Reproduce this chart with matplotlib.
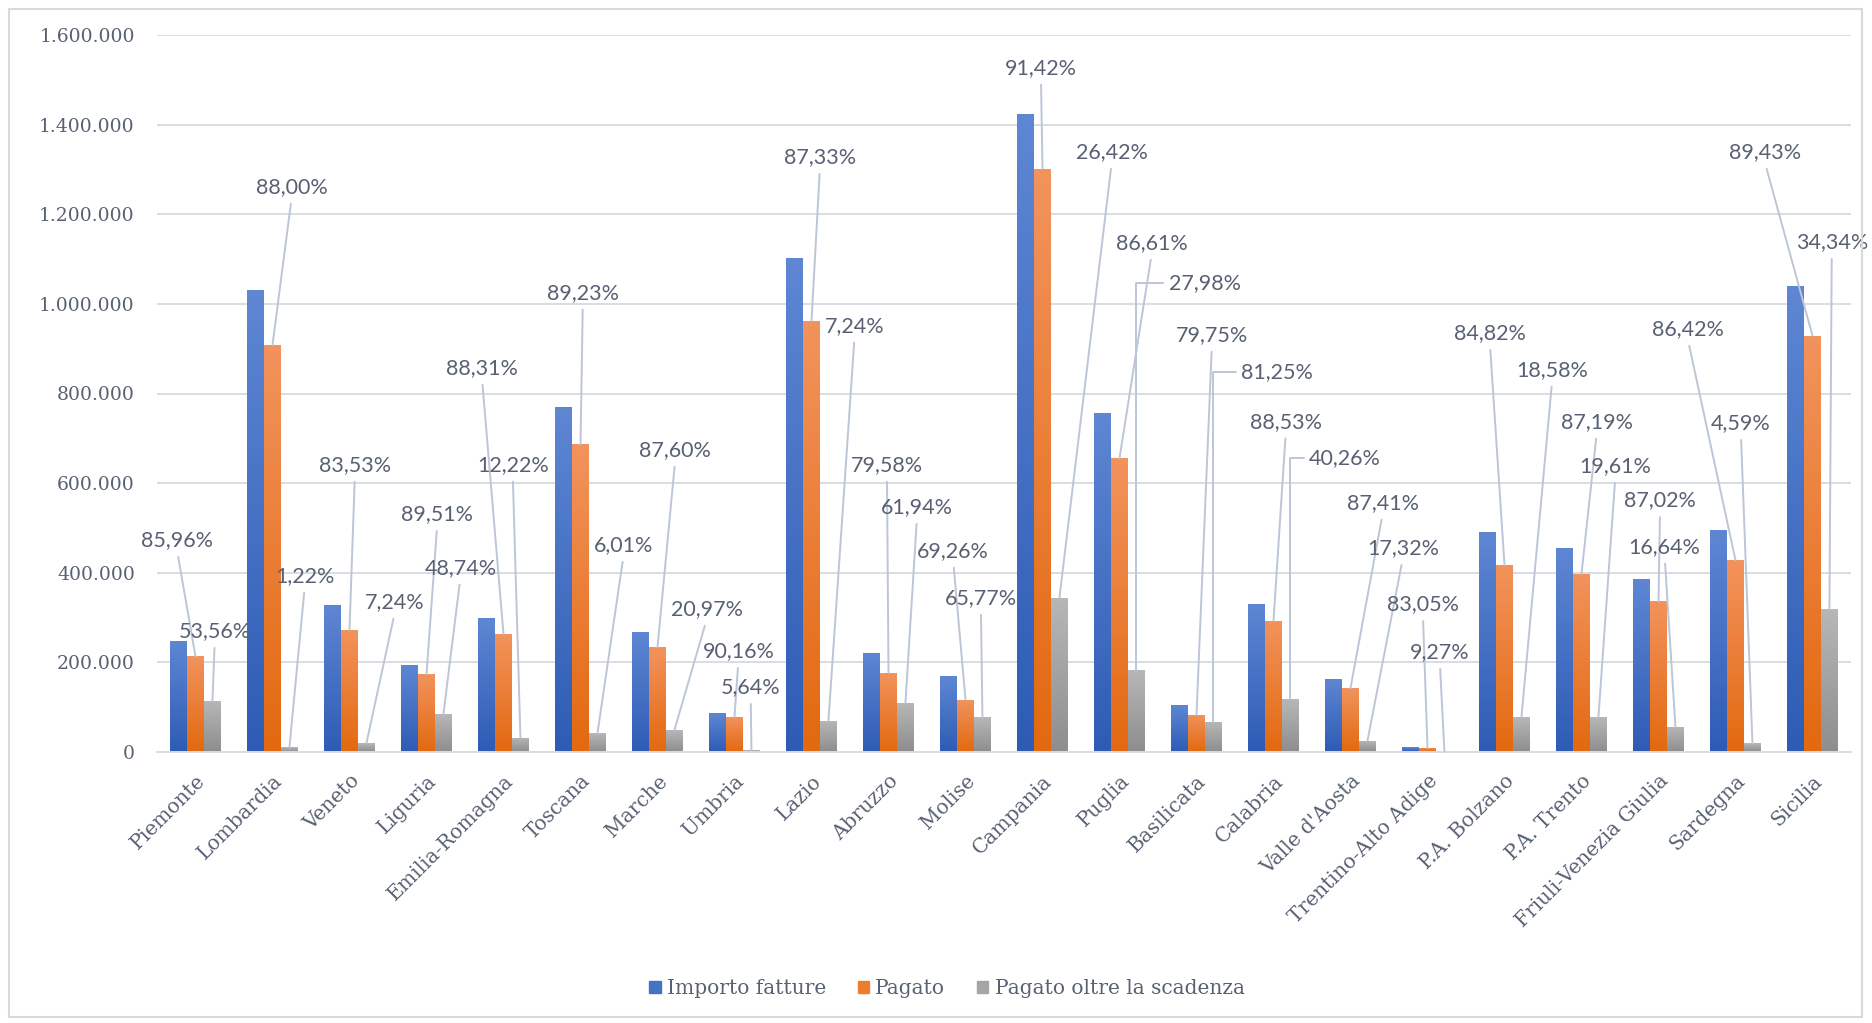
import numpy as np
import matplotlib
matplotlib.use("Agg")
import matplotlib.pyplot as plt
from matplotlib.patches import Patch, Rectangle
from matplotlib.colors import LinearSegmentedColormap
from matplotlib.ticker import FuncFormatter

regioni = ["Piemonte", "Lombardia", "Veneto", "Liguria", "Emilia-Romagna", "Toscana",
           "Marche", "Umbria", "Lazio", "Abruzzo", "Molise", "Campania", "Puglia",
           "Basilicata", "Calabria", "Valle d'Aosta", "Trentino-Alto Adige",
           "P.A. Bolzano", "P.A. Trento", "Friuli-Venezia Giulia", "Sardegna", "Sicilia"]

importo = [248000, 1032000, 327000, 194000, 298000, 770000, 267000, 87000, 1102000,
           222000, 169000, 1424000, 757000, 104000, 331000, 163000, 11000, 492000,
           456000, 386000, 495000, 1039000]
pagato = [213200, 908200, 273100, 173600, 263200, 687100, 233900, 78400, 962400,
          176700, 117000, 1301800, 655600, 82900, 293000, 142500, 9100, 417300,
          397600, 335900, 427800, 929200]
oltre = [114200, 11100, 19800, 84600, 32200, 41300, 49000, 4400, 69700, 109400,
         77000, 343900, 183400, 67400, 118000, 24700, 840, 77500, 78000, 55900,
         19600, 319100]

perc_pagato = [85.96, 88.00, 83.53, 89.51, 88.31, 89.23, 87.60, 90.16, 87.33, 79.58,
               69.26, 91.42, 86.61, 79.75, 88.53, 87.41, 83.05, 84.82, 87.19, 87.02,
               86.42, 89.43]
perc_oltre = [53.56, 1.22, 7.24, 48.74, 12.22, 6.01, 20.97, 5.64, 7.24, 61.94, 65.77,
              26.42, 27.98, 81.25, 40.26, 17.32, 9.27, 18.58, 19.61, 16.64, 4.59, 34.34]

# posizioni delle etichette (come in Excel, spostate a mano)
lab_pag_x = [-0.24, 1.25, 2.07, 3.14, 3.72, 5.03, 6.23, 7.05, 8.11, 8.98, 9.84, 10.98,
             12.42, 13.20, 14.16, 15.42, 15.94, 16.81, 18.20, 19.02, 19.38, 20.38]
lab_pag_y = [473000, 1261000, 641000, 531000, 857000, 1025000, 674000, 225000, 1328000,
             641000, 449000, 1527000, 1136000, 931000, 737000, 556000, 330000, 935000,
             737000, 562000, 944000, 1339000]
lab_olt_x = [0.25, 1.42, 2.59, 3.44, 4.12, 5.56, 6.64, 7.21, 8.56, 9.37, 10.20, 11.90,
             13.11, 14.05, 14.93, 15.68, 16.16, 17.62, 18.44, 19.08, 20.07, 21.25]
lab_olt_y = [270000, 393000, 335000, 411000, 641000, 462000, 319000, 145000, 951000,
             547000, 344000, 1339000, 1047000, 848000, 656000, 455000, 223000, 853000,
             638000, 458000, 734000, 1138000]
stub = [12, 13, 14]

txt_col = "#586173"
line_col = "#BCC6D6"
grid_col = "#D9DDE3"

fig = plt.figure(figsize=(18.72, 10.23), dpi=100)
ax = fig.add_axes([157/1872, 1-752/1023, (1851-157)/1872, (752-35)/1023])

x = np.arange(len(regioni))
w = 0.22

def gradient_bars(bars, top, bottom):
    cmap = LinearSegmentedColormap.from_list("g", [bottom, top])
    grad = np.linspace(1, 0, 64).reshape(-1, 1)
    for b in bars:
        bx, by = b.get_x(), b.get_y()
        bw, bh = b.get_width(), b.get_height()
        if bh <= 0:
            continue
        b.set_facecolor("none")
        b.set_edgecolor("none")
        im = ax.imshow(grad, cmap=cmap, extent=[bx, bx + bw, by, by + bh],
                       aspect="auto", zorder=2, vmin=0, vmax=1)
        im.set_clip_path(b)

b1 = ax.bar(x - w, importo, w, zorder=2)
b2 = ax.bar(x, pagato, w, zorder=2)
b3 = ax.bar(x + w, oltre, w, zorder=2)
gradient_bars(b1, "#5E86D3", "#2E5CB5")
gradient_bars(b2, "#F2935C", "#E36910")
gradient_bars(b3, "#B7B7B7", "#8E8E8E")

ax.set_xlim(-0.5, len(regioni) - 0.5)
ax.set_ylim(0, 1600000)
ax.set_yticks(np.arange(0, 1600001, 200000))
ax.yaxis.set_major_formatter(FuncFormatter(lambda v, p: f"{int(v):,}".replace(",", ".")))
ax.grid(axis="y", color=grid_col, lw=1.4, zorder=0)
ax.set_axisbelow(True)
for s in ["top", "right", "left"]:
    ax.spines[s].set_visible(False)
ax.spines["bottom"].set_color(grid_col)
ax.spines["bottom"].set_linewidth(1.4)
ax.tick_params(axis="both", length=0)
ax.tick_params(axis="y", pad=16, labelsize=13.5, labelcolor=txt_col)
for t in ax.get_yticklabels():
    t.set_family("DejaVu Serif")

ax.set_xticks(x)
ax.set_xticklabels(regioni, rotation=45, ha="right", rotation_mode="anchor",
                   family="DejaVu Serif", fontsize=14.5, color=txt_col)
ax.tick_params(axis="x", pad=14)

def etichetta(testo, xy, xytext, laterale):
    if laterale:
        props = dict(arrowstyle="-", color=line_col, lw=1.4, shrinkA=2, shrinkB=0,
                     relpos=(0, 0.5), connectionstyle="angle,angleA=0,angleB=90,rad=0")
    else:
        props = dict(arrowstyle="-", color=line_col, lw=1.4, shrinkA=3, shrinkB=0,
                     relpos=(0.5, 0))
    ax.annotate(testo, xy=xy, xytext=xytext, ha="center", va="center",
                fontsize=15.5, family="Lato", color=txt_col,
                arrowprops=props, annotation_clip=False, zorder=4)

for i in range(len(regioni)):
    etichetta(f"{perc_pagato[i]:.2f}%".replace(".", ","), (x[i], pagato[i]),
              (lab_pag_x[i], lab_pag_y[i]), False)
    etichetta(f"{perc_oltre[i]:.2f}%".replace(".", ","), (x[i] + w, oltre[i]),
              (lab_olt_x[i], lab_olt_y[i]), i in stub)

handles = [Patch(color="#4472C4"), Patch(color="#ED7D31"), Patch(color="#A5A5A5")]
fig.legend(handles, ["Importo fatture", "Pagato", "Pagato oltre la scadenza"],
           loc="center", bbox_to_anchor=(947/1872, 1-989/1023), ncol=3, frameon=False,
           handlelength=0.55, handleheight=0.55, handletextpad=0.3, columnspacing=1.6,
           prop={"family": "DejaVu Serif", "size": 14.5}, labelcolor=txt_col)

fig.patches.append(Rectangle((9/1872, 1-1017/1023), (1862-9)/1872, (1017-9)/1023,
                             transform=fig.transFigure, fill=False,
                             edgecolor="#D9D9D9", lw=1.5))

fig.savefig("out.png", dpi=100)
